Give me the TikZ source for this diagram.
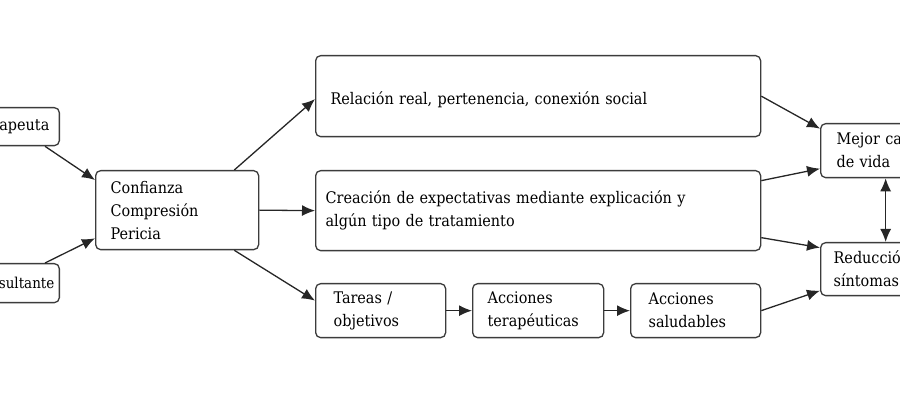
\documentclass[tikz,border=0pt]{standalone}
\usepackage{fontspec}
\setmainfont{DejaVu Serif Condensed}
\usetikzlibrary{arrows.meta}
\definecolor{boxline}{HTML}{3C3C3C}
\definecolor{arrline}{HTML}{262626}
\tikzset{
	box/.style={draw=boxline, line width=1.3pt, rounded corners=5pt, fill=white, align=left,
		inner ysep=0pt, anchor=north west, text=black, font=\fontsize{16}{23}\selectfont},
	arr/.style={-{Latex[length=13pt,width=11pt]}, line width=1.3pt, draw=arrline}
}
\begin{document}
\begin{tikzpicture}[x=1pt,y=-1pt]
	\useasboundingbox (0,0) rectangle (900,419);
	\clip (0,0) rectangle (900,419);
	
	\node[box, minimum height=38pt, text width=100pt, inner xsep=10pt, align=right, anchor=north east] (ter) at (60,107) {apeuta};
	\node[box, minimum height=39pt, text width=110pt, inner xsep=5pt, align=right, anchor=north east, font=\fontsize{15}{23}\selectfont] (con) at (60,263) {sultante};
	\node[box, minimum height=79pt, text width=133pt, inner xsep=15pt] (conf) at (95,170) {Confianza\\Compresión\\Pericia};
	
	\node[box, minimum height=81pt, text width=415pt, inner xsep=15pt, text height=20pt] (rel) at (315,55) {Relación real, pertenencia, conexión social};
	\node[box, minimum height=80pt, text width=425pt, inner xsep=10pt] (crea) at (315,170) {Creación de expectativas mediante explicación y\\algún tipo de tratamiento};
	\node[box, minimum height=54pt, text width=94pt, inner xsep=18pt] (tar) at (315,283) {Tareas /\\objetivos};
	\node[box, minimum height=54pt, text width=101pt, inner xsep=15pt] (acter) at (472,283) {Acciones\\terapéuticas};
	\node[box, minimum height=54pt, text width=94pt, inner xsep=18pt] (acsal) at (630,283) {Acciones\\saludables};
	
	\node[box, minimum height=54pt, text width=108pt, inner xsep=16pt] (mej) at (820,123) {Mejor ca\\de vida};
	\node[box, minimum height=53pt, text width=114pt, inner xsep=13pt] (red) at (820,242) {Reducción\\síntomas};
	
	\draw[arr] ([xshift=-15pt]ter.south east) -- ([yshift=-10pt]conf.north west);
	\draw[arr] ([xshift=-15pt]con.north east) -- ([yshift=12pt]conf.south west);
	\draw[arr] ([xshift=-25pt]conf.north east) -- ([yshift=-3pt]rel.west);
	\draw[arr] (conf.east) -- (crea.west);
	\draw[arr] ([xshift=-25pt]conf.south east) -- ([yshift=10pt]tar.west);
	\draw[arr] (tar.east) -- (acter.west);
	\draw[arr] (acter.east) -- (acsal.west);
	\draw[arr] (rel.east) -- ([yshift=22pt]mej.west);
	\draw[arr] ([yshift=30pt]crea.east) -- ([yshift=-18pt]mej.west);
	\draw[arr] ([yshift=-27pt]crea.east) -- ([yshift=21.5pt]red.west);
	\draw[arr] (acsal.east) -- ([yshift=-21.5pt]red.west);
	\draw[arr, {Latex[length=13pt,width=11pt]}-{Latex[length=13pt,width=11pt]}] ([xshift=-5pt]mej.south) -- ([xshift=-5pt]red.north);
\end{tikzpicture}
\end{document}
